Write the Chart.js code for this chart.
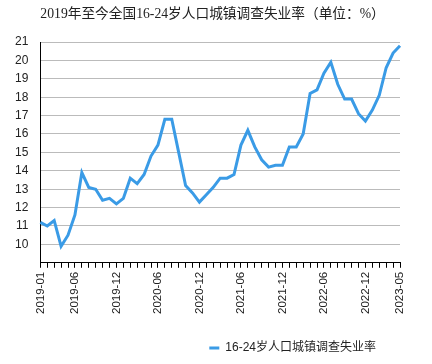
<!DOCTYPE html>
<html>
<head>
<meta charset="utf-8">
<script src="https://cdn.jsdelivr.net/npm/chart.js@4/dist/chart.umd.min.js"></script>
<style>
  html, body { margin: 0; padding: 0; background: #fff; }
  #wrap { width: 432px; height: 364px; position: relative; }
</style>
</head>
<body>
<div id="wrap"><canvas id="chart"></canvas></div>
<script>
const months = [
  '2019-01', '2019-02', '2019-03', '2019-04', '2019-05', '2019-06', '2019-07', '2019-08', '2019-09', '2019-10', '2019-11', '2019-12',
  '2020-01', '2020-02', '2020-03', '2020-04', '2020-05', '2020-06', '2020-07', '2020-08', '2020-09', '2020-10', '2020-11', '2020-12',
  '2021-01', '2021-02', '2021-03', '2021-04', '2021-05', '2021-06', '2021-07', '2021-08', '2021-09', '2021-10', '2021-11', '2021-12',
  '2022-01', '2022-02', '2022-03', '2022-04', '2022-05', '2022-06', '2022-07', '2022-08', '2022-09', '2022-10', '2022-11', '2022-12',
  '2023-01', '2023-02', '2023-03', '2023-04', '2023-05',
];
const rates = [
  11.2, 11.0, 11.3, 9.9, 10.5, 11.6, 13.9, 13.1, 13.0, 12.4, 12.5, 12.2,
  12.5, 13.6, 13.3, 13.8, 14.8, 15.4, 16.8, 16.8, 15.0, 13.2, 12.8, 12.3,
  12.7, 13.1, 13.6, 13.6, 13.8, 15.4, 16.2, 15.3, 14.6, 14.2, 14.3, 14.3,
  15.3, 15.3, 16.0, 18.2, 18.4, 19.3, 19.9, 18.7, 17.9, 17.9, 17.1, 16.7,
  17.3, 18.1, 19.6, 20.4, 20.8,
];
const shownTicks = ['2019-01', '2019-06', '2019-12', '2020-06', '2020-12', '2021-06', '2021-12', '2022-06', '2022-12', '2023-05'];
const seriesName = '16-24岁人口城镇调查失业率';
const chartTitle = '2019年至今全国16-24岁人口城镇调查失业率（单位：%）';

const lineColor = '#3a9be6';
const sans = '"Liberation Sans", Arial, "Noto Sans CJK SC", sans-serif';

// title drawn from the y axis line, like the original
const titlePlugin = {
  id: 'leftTitle',
  afterDraw (chart) {
    const { ctx, chartArea } = chart;
    ctx.save();
    ctx.font = '13.7px "Liberation Serif", "Noto Sans CJK SC", serif';
    ctx.fillStyle = '#222';
    ctx.textBaseline = 'middle';
    ctx.fillText(chartTitle, chartArea.left, 14);
    ctx.restore();
  },
};

new Chart(document.getElementById('chart'), {
  type: 'line',
  plugins: [titlePlugin],
  data: {
    labels: months,
    datasets: [
      {
        label: seriesName,
        data: rates,
        borderColor: lineColor,
        backgroundColor: lineColor,
        borderWidth: 3,
        pointRadius: 0,
        tension: 0,
      },
    ],
  },
  options: {
    responsive: true,
    maintainAspectRatio: false,
    animation: false,
    layout: { padding: { top: 42, right: 32, left: 3, bottom: 0 } },
    plugins: {
      tooltip: { enabled: false },
      title: { display: false },
      legend: {
        position: 'bottom',
        align: 'end',
        fullSize: false,
        labels: {
          usePointStyle: true,
          pointStyle: 'line',
          pointStyleWidth: 10,
          boxHeight: 12,
          padding: 24,
          color: '#222',
          font: { family: sans, size: 12 },
        },
      },
    },
    scales: {
      x: {
        offset: false,
        grid: {
          drawOnChartArea: false,
          color: '#000',
          tickColor: '#000',
          tickLength: 5,
        },
        border: { color: '#000', width: 1 },
        ticks: {
          autoSkip: false,
          maxRotation: 90,
          minRotation: 90,
          padding: 4,
          color: '#222',
          font: { family: sans, size: 11.5 },
          callback (value) {
            const label = months[value];
            return shownTicks.includes(label) ? label : '';
          },
        },
      },
      y: {
        min: 9,
        max: 21,
        grid: {
          color: '#bbb',
          drawTicks: false,
        },
        border: { color: '#000', width: 1 },
        ticks: {
          stepSize: 1,
          padding: 12,
          color: '#222',
          font: { family: sans, size: 12 },
          callback (value) {
            return value === 9 ? '' : value;
          },
        },
      },
    },
  },
});
</script>
</body>
</html>
